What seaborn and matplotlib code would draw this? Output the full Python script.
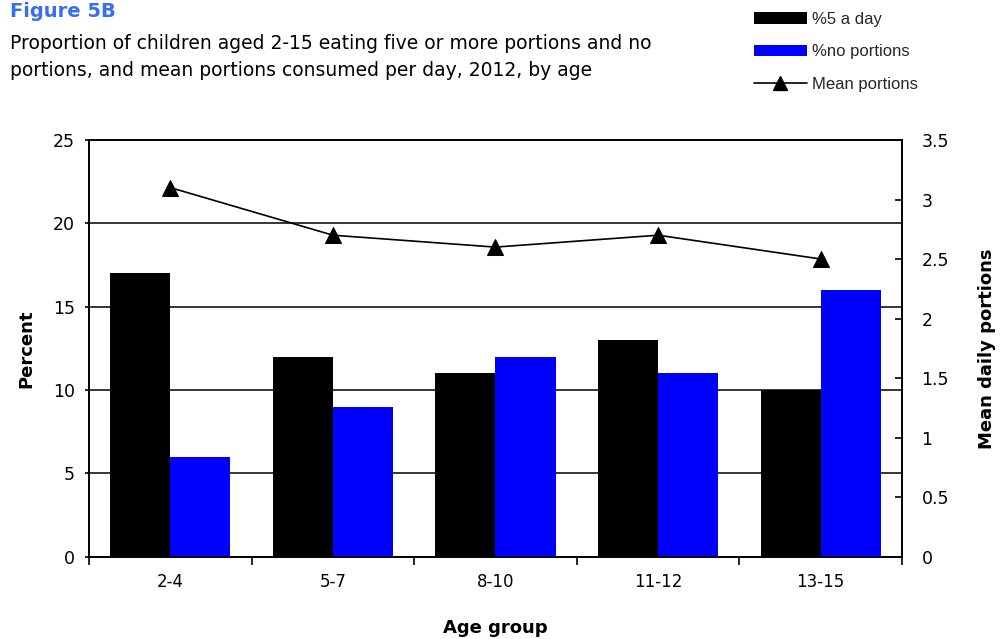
import matplotlib
matplotlib.use("Agg")
import matplotlib.pyplot as plt
import seaborn as sns
import numpy as np
import pandas as pd
from matplotlib.patches import Patch
from matplotlib.lines import Line2D
from matplotlib.ticker import FixedLocator

age_groups = ["2-4", "5-7", "8-10", "11-12", "13-15"]
pct_5_a_day = [17, 12, 11, 13, 10]
pct_no_portions = [6, 9, 12, 11, 16]
mean_portions = [3.1, 2.7, 2.6, 2.7, 2.5]
series_names = ["%5 a day", "%no portions"]
line_name = "Mean portions"
left_ticks = [0, 5, 10, 15, 20, 25]
right_ticks = [0, 0.5, 1, 1.5, 2, 2.5, 3, 3.5]
right_tick_labels = ["0", "0.5", "1", "1.5", "2", "2.5", "3", "3.5"]

sns.set_theme(style="white")
plt.rcParams["font.family"] = ["DejaVu Sans"]

df = pd.DataFrame({
    "age": age_groups * 2,
    "value": pct_5_a_day + pct_no_portions,
    "series": [series_names[0]] * 5 + [series_names[1]] * 5,
})

fig = plt.figure(figsize=(10.03, 6.39), dpi=100)
ax = fig.add_axes([89 / 1003, 1 - 556.5 / 639, (902 - 89) / 1003, (556.5 - 140) / 639])

sns.barplot(data=df, x="age", y="value", hue="series", order=age_groups,
            hue_order=series_names, palette=["#000000", "#0000ff"], saturation=1,
            width=0.74, gap=0, legend=False, ax=ax, zorder=3)
for p in ax.patches:
    p.set_edgecolor("none")

ax.set_ylim(0, 25)
ax.set_xlim(-0.5, len(age_groups) - 0.5)
ax.set_yticks(left_ticks)
ax.set_yticklabels([str(t) for t in left_ticks])
ax.set_axisbelow(True)
ax.grid(axis="y", color="black", linewidth=1.1)
ax.grid(axis="x", visible=False)
for s in ax.spines.values():
    s.set_visible(True)
    s.set_color("black")
    s.set_linewidth(1.2)

ax.tick_params(axis="x", which="major", length=0, labelsize=12, pad=12, colors="black")
ax.xaxis.set_minor_locator(FixedLocator(np.arange(-0.5, len(age_groups), 1.0)))
ax.tick_params(axis="x", which="minor", length=6, width=1.2, direction="out", color="black", bottom=True)
ax.tick_params(axis="y", length=3, width=1.2, direction="out", labelsize=12.5, left=True, colors="black", pad=7)
ax.set_xlabel("Age group", fontsize=13, fontweight="bold", labelpad=20, color="black")
ax.set_ylabel("Percent", fontsize=13, fontweight="bold", labelpad=13, color="black")

ax2 = ax.twinx()
sns.lineplot(x=np.arange(len(age_groups)), y=mean_portions, ax=ax2, color="black",
             linewidth=1.2, marker="^", markersize=11, markeredgecolor="black", zorder=5)
ax2.set_ylim(0, 3.5)
ax2.set_yticks(right_ticks)
ax2.set_yticklabels(right_tick_labels)
ax2.tick_params(axis="y", length=5, width=1.2, direction="in", labelsize=12.5, right=True, colors="black", pad=14)
ax2.set_ylabel("Mean daily portions", fontsize=13, fontweight="bold", labelpad=21, color="black")
ax2.grid(False)
for s in ax2.spines.values():
    s.set_visible(True)
    s.set_color("black")
    s.set_linewidth(1.2)

fig.text(10 / 1003, 1 - 17 / 639, "Figure 5B", fontsize=14, fontweight="bold", color="#3a6df0", ha="left", va="baseline")
fig.text(10 / 1003, 1 - 49 / 639, "Proportion of children aged 2-15 eating five or more portions and no",
         fontsize=13.5, color="black", ha="left", va="baseline")
fig.text(10 / 1003, 1 - 76 / 639, "portions, and mean portions consumed per day, 2012, by age",
         fontsize=13.5, color="black", ha="left", va="baseline")

handles = [Patch(facecolor="#000000", edgecolor="none"),
           Patch(facecolor="#0000ff", edgecolor="none"),
           Line2D([0], [0], color="black", linewidth=1.2, marker="^", markersize=10)]
fig.legend(handles, series_names + [line_name], loc="upper left",
           bbox_to_anchor=(742 / 1003, 1 - 0 / 639), frameon=False,
           prop={"family": "Liberation Sans", "size": 12},
           handlelength=3.2, handleheight=0.7, labelspacing=1.05, handletextpad=0.3,
           borderaxespad=0.3)

fig.savefig("out.png", dpi=100)
